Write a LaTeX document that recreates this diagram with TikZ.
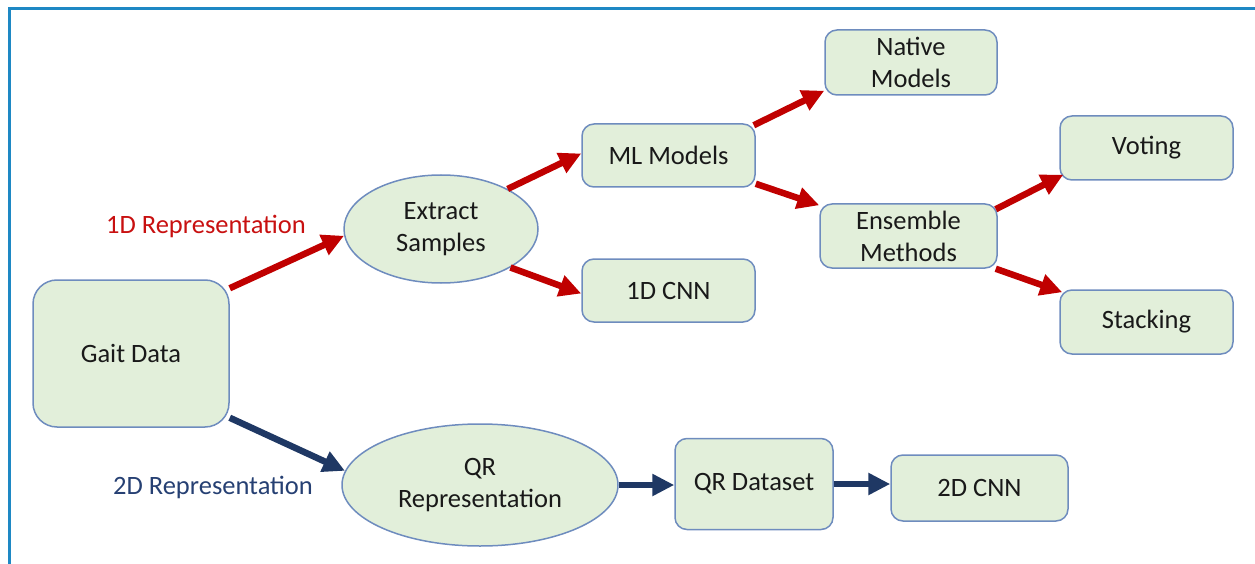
\documentclass[tikz,border=0pt]{standalone}
\usepackage{fontspec}
\setmainfont{Carlito}
\usetikzlibrary{shapes.geometric,arrows.meta,calc}

\definecolor{frameblue}{RGB}{30,136,196}
\definecolor{boxfill}{RGB}{226,239,218}
\definecolor{boxline}{RGB}{110,140,190}
\definecolor{arrred}{RGB}{192,0,0}
\definecolor{arrnavy}{RGB}{31,56,100}
\definecolor{txtred}{RGB}{200,16,16}
\definecolor{txtnavy}{RGB}{38,64,115}

\tikzset{
  txt/.style={font=\fontsize{26.5}{32}\selectfont, text=black!90, align=center},
  box/.style={txt, draw=boxline, fill=boxfill, line width=1.5pt, rounded corners=12pt, inner sep=0pt},
  oval/.style={txt, ellipse, draw=boxline, fill=boxfill, line width=1.5pt, inner sep=0pt},
  redarrow/.style={draw=arrred, line width=6.5pt, -{Triangle[length=22pt,width=21pt]}},
  navyarrow/.style={draw=arrnavy, line width=6.5pt, -{Triangle[length=22pt,width=21pt]}},
  lbl/.style={font=\fontsize{26.5}{32}\selectfont}
}

\begin{document}
\begin{tikzpicture}[x=1pt,y=-1pt]
  \useasboundingbox (0,0) rectangle (1255,564);

  % frame edges
  \draw[frameblue, line width=3pt] (9,564) -- (9,9) -- (1255,9);

  % nodes
  \node[box, rounded corners=24pt, minimum width=196pt, minimum height=147pt] (gait) at (131,353.5) {Gait Data};
  \node[oval, minimum width=194pt, minimum height=108pt] (extract) at (441,229) {Extract\\Samples};
  \node[box, minimum width=173pt, minimum height=63pt] (ml) at (668.5,155.5) {ML Models};
  \node[box, minimum width=173pt, minimum height=63pt] (cnn1) at (668.5,290.5) {1D CNN};
  \node[box, minimum width=172pt, minimum height=65pt] (native) at (911,62.5) {Native\\Models};
  \node[box, minimum width=177pt, minimum height=64pt] (ens) at (908.5,236) {Ensemble\\Methods};
  \node[box, minimum width=173pt, minimum height=64pt] (voting) at (1146.5,148) {Voting};
  \node[box, minimum width=173pt, minimum height=64pt] (stacking) at (1146.5,322) {Stacking};
  \node[oval, minimum width=276pt, minimum height=122pt] (qr) at (480,485) {QR\\Representation};
  \node[box, minimum width=158pt, minimum height=91pt] (qrds) at (754,484) {QR Dataset};
  \node[box, minimum width=177pt, minimum height=66pt] (cnn2) at (979.5,488) {2D CNN};

  % branch labels
  \node[lbl, text=txtred] (lab1) at (206,226) {1D Representation};
  \node[lbl, text=txtnavy] (lab2) at (213,487) {2D Representation};

  % 1D branch
  \draw[redarrow] ($(gait.north east)+(0,9)$) -- (extract.184);
  \draw[redarrow] (extract.31) -- ($(ml.west)+(0,-2)$);
  \draw[redarrow] (extract.-29) -- ($(cnn1.west)+(0,3)$);
  \draw[redarrow] ($(ml.north east)+(-2,2)$) -- ($(native.south west)+(0,-5)$);
  \draw[redarrow] ($(ml.south east)+(0,-4)$) -- ($(ens.north west)+(0,2)$);
  \draw[redarrow] ($(ens.north east)+(-2,6)$) -- ($(voting.south west)+(4,-6)$);
  \draw[redarrow] ($(ens.south east)+(-2,0)$) -- ($(stacking.north west)+(3,3)$);

  % 2D branch
  \draw[navyarrow] ($(gait.south east)+(0,-10)$) -- (qr.174);
  \draw[navyarrow] (qr.east) -- (qr.east -| qrds.west);
  \draw[navyarrow] (qrds.east) -- (qrds.east -| cnn2.west);
\end{tikzpicture}
\end{document}
